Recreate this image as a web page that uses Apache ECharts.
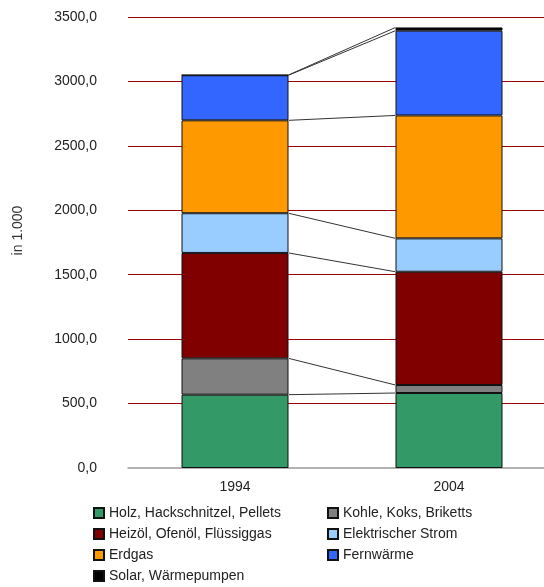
<!DOCTYPE html>
<html>
<head>
<meta charset="utf-8">
<script src="https://cdn.jsdelivr.net/npm/echarts@6/dist/echarts.min.js"></script>
<style>
html,body{margin:0;padding:0;background:#fff;}
#chart{width:544px;height:587px;}
</style>
</head>
<body>
<div id="chart"></div>
<script>
var chart = echarts.init(document.getElementById('chart'));

var years = ['1994', '2004'];//X轴
var yTicks = [0, 3500, 500];//min, max, interval
// Werte in 1.000
var holz = [569, 582];
var kohle = [282, 62];
var heizoel = [818, 879];
var strom = [308, 259];
var erdgas = [721, 954];
var fernwaerme = [350, 658];
var solar = [2, 25];

var names = ['Holz, Hackschnitzel, Pellets', 'Kohle, Koks, Briketts', 'Heizöl, Ofenöl, Flüssiggas',
    'Elektrischer Strom', 'Erdgas', 'Fernwärme', 'Solar, Wärmepumpen'];
var values = [holz, kohle, heizoel, strom, erdgas, fernwaerme, solar];
var colors = ['#339966', '#808080', '#800000', '#99CCFF', '#FF9900', '#3366FF', '#000000'];

var font = "'Liberation Sans', Arial, sans-serif";

var series = [];
for (var i = 0; i < names.length; i++) {
    series.push({
        name: names[i],
        type: 'bar',
        stack: 'total',
        barWidth: '50%',
        itemStyle: {color: colors[i], borderColor: '#111', borderWidth: 1},
        data: values[i]
    });
}

// Verbindungslinien zwischen den Stapeln
var connData = [];
var c0 = 0, c1 = 0;
for (var k = 0; k < values.length; k++) {
    c0 += values[k][0];
    c1 += values[k][1];
    connData.push([0, c0, c1]);
}
series.push({
    name: 'connect',
    type: 'custom',
    silent: true,
    encode: {x: 0, y: [1, 2]},
    renderItem: function (params, api) {
        var p0 = api.coord([0, api.value(1)]);
        var p1 = api.coord([1, api.value(2)]);
        var half = api.size([1, 0])[0] * 0.25;
        return {
            type: 'line',
            shape: {x1: p0[0] + half, y1: p0[1], x2: p1[0] - half, y2: p1[1]},
            style: {stroke: '#333', lineWidth: 1}
        };
    },
    data: connData
});

var legendStyle = {
    orient: 'vertical',
    padding: 0,
    height: 90,
    itemWidth: 10,
    itemHeight: 10,
    itemGap: 7,
    icon: 'rect',
    textStyle: {fontSize: 14, lineHeight: 14, color: '#222', fontFamily: font}
};

var option = {
    animation: false,
    grid: {left: 128, width: 428, top: 17, bottom: 119, outerBoundsMode: 'none'},
    legend: [
        Object.assign({left: 93, top: 506, data: [names[0], names[2], names[4], names[6]]}, legendStyle),
        Object.assign({left: 327, top: 506, data: [names[1], names[3], names[5]]}, legendStyle)
    ],
    xAxis: {
        type: 'category',
        data: years,
        axisLine: {lineStyle: {color: '#999', width: 1.5}},
        axisTick: {length: 4, lineStyle: {color: '#999'}},
        axisLabel: {fontSize: 14, color: '#222', fontFamily: font, margin: 12}
    },
    yAxis: {
        type: 'value',
        min: yTicks[0],
        max: yTicks[1],
        interval: yTicks[2],
        name: 'in 1.000',
        nameLocation: 'middle',
        nameGap: 103,
        nameTextStyle: {fontSize: 14, color: '#333', fontFamily: font, padding: [0, 0, 0, 24]},
        axisLine: {show: false},
        axisTick: {show: false},
        axisLabel: {
            fontSize: 14, color: '#222', fontFamily: font, margin: 31,
            formatter: function (v) { return v.toFixed(1).replace('.', ','); }
        },
        splitLine: {showMinLine: false, lineStyle: {color: '#990000', width: 1.2}}
    },
    series: series
};
chart.setOption(option);
</script>
</body>
</html>
